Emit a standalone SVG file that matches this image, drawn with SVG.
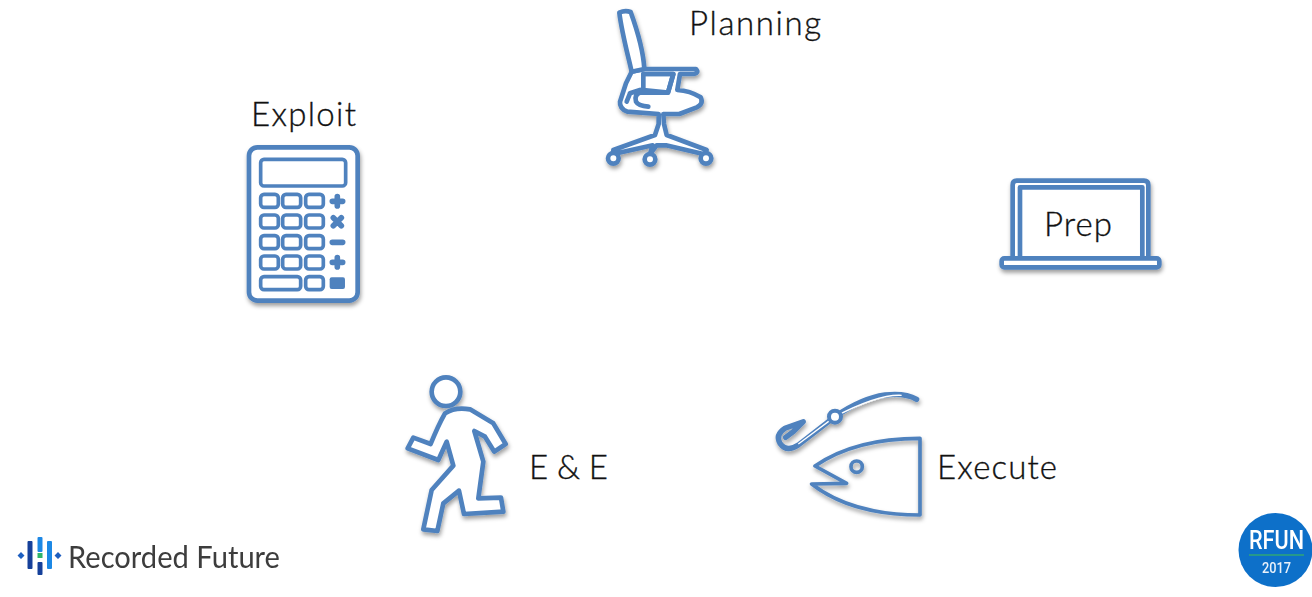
<svg xmlns="http://www.w3.org/2000/svg" width="1312" height="597" viewBox="0 0 1312 597">
<defs>
<filter id="sh" x="-15%" y="-15%" width="130%" height="135%"><feDropShadow dx="3" dy="9" stdDeviation="6.500" flood-color="#000" flood-opacity=".38"/></filter>
<filter id="soft" x="-5%" y="-5%" width="110%" height="110%"><feGaussianBlur stdDeviation=".5"/></filter>
</defs>
<style>
.ic{fill:none;stroke:#5082be;stroke-width:14;stroke-linejoin:round;stroke-linecap:round}
.w{fill:#fff}
.f{fill:#5082be;stroke:none}
.t{font-family:"Lato","Noto Sans",sans-serif;font-weight:300;font-size:33px;fill:#111;stroke:#111;stroke-width:.35}
</style>
<rect width="1312" height="597" fill="#fff"/>
<g id="planning">
<g transform="translate(590 0) scale(.3333)" class="ic" filter="url(#sh)">
<path class="w" d="M125 215L108 250L90 305Q88 325 112 335L206 342L206 372L195 405L70 450L70 462L188 436L180 462L200 436L228 436L340 462L350 450L230 405L222 372L220 342L268 342L320 322Q342 312 332 292Q300 272 262 270L270 222L312 222Q328 218 318 207L163 207Z"/>
<path class="w" d="M88 38Q105 30 122 36C145 100 160 150 163 207L125 215C110 150 95 95 88 38Z"/>
<path class="w" d="M160 222L250 222L234 278L160 270Z"/>
<path d="M160 222L250 222L234 278L150 278Q132 285 138 305Q145 318 175 320M120 280L150 270M110 305L120 280"/>
<circle class="w" cx="70" cy="475" r="16"/>
<circle class="w" cx="180" cy="478" r="16"/>
<circle class="w" cx="348" cy="475" r="16"/>
</g>
<text class="t" x="689" y="35" textLength="132">Planning</text>
</g>
<g id="exploit">
<g transform="translate(235 90) scale(.3333)" class="ic" filter="url(#sh)">
<rect class="w" x="42" y="172" width="326" height="460" rx="25"/>
<g style="stroke-width:11">
<rect x="77" y="208" width="255" height="80" rx="10"/>
<rect x="77" y="313" width="53" height="39" rx="10"/><rect x="143" y="313" width="54" height="39" rx="10"/><rect x="212" y="313" width="53" height="39" rx="10"/>
<rect x="77" y="375" width="53" height="39" rx="10"/><rect x="143" y="375" width="54" height="39" rx="10"/><rect x="212" y="375" width="53" height="39" rx="10"/>
<rect x="77" y="437" width="53" height="39" rx="10"/><rect x="143" y="437" width="54" height="39" rx="10"/><rect x="212" y="437" width="53" height="39" rx="10"/>
<rect x="77" y="498" width="53" height="39" rx="10"/><rect x="143" y="498" width="54" height="39" rx="10"/><rect x="212" y="498" width="53" height="39" rx="10"/>
<rect x="77" y="560" width="120" height="39" rx="10"/><rect x="212" y="560" width="53" height="39" rx="10"/>
</g>
<path style="stroke-width:17" d="M292 334H323M307 320V348M295 383L319 407M319 383L295 407M292 457H323M292 517H323M307 503V531"/>
<rect class="f" x="284" y="562" width="46" height="35" rx="6"/>
</g>
<text class="t" x="251" y="126" textLength="105">Exploit</text>
</g>
<g id="prep">
<g transform="translate(990 170) scale(.3333)" class="ic" filter="url(#sh)">
<path class="w" d="M68 265L68 45Q68 32 80 32L462 32Q475 32 475 45L475 265"/>
<rect class="w" x="90" y="52" width="367" height="213"/>
<rect class="w" x="35" y="265" width="473" height="27" rx="8"/>
</g>
<text class="t" x="1044" y="236" textLength="68">Prep</text>
</g>
<g id="execute">
<g transform="translate(765 380) scale(.3333)" filter="url(#sh)">
<path d="M455 58Q420 38 360 45Q290 55 210 110L100 195Q65 218 45 190Q30 165 60 145L115 125L85 155L62 172" fill="none" stroke="#5082be" stroke-width="16" stroke-linejoin="round" stroke-linecap="round"/>
<path d="M410 46Q340 42 210 110L100 192" fill="none" stroke="#fff" stroke-width="4"/>
<circle cx="210" cy="110" r="18" fill="#fff" stroke="#5082be" stroke-width="12"/>
<path class="ic" style="stroke-width:11" d="M465 175L465 405Q260 405 140 312L245 310L150 258Q270 175 465 175Z" fill="#fff"/>
<circle cx="275" cy="260" r="17" fill="none" stroke="#5082be" stroke-width="11"/>
</g>
<text class="t" x="937" y="479" textLength="120">Execute</text>
</g>
<g id="ee">
<g transform="translate(395 370) scale(.3333)" class="ic" filter="url(#sh)">
<circle class="w" cx="153" cy="65" r="43"/>
<path class="w" d="M150 130Q180 110 225 118L295 160L332 222L298 245L270 200L238 183L265 275L250 385L318 383L325 425L207 432L192 362L145 400L127 483L85 478L110 360L175 287L155 215L130 270L38 235L55 203L107 222Q130 165 150 130Z"/>
</g>
<text class="t" x="529" y="479" textLength="79">E &amp; E</text>
</g>
<g id="recorded-future" filter="url(#soft)">
<path d="M21 552L24.500 555.500L21 559L17.500 555.500ZM58 552L61.500 555.500L58 559L54.500 555.500Z" fill="#1f5fc0"/>
<rect x="27.500" y="541" width="5" height="28" rx="1" fill="#12409a"/>
<rect x="37.500" y="537" width="5" height="15" rx="1" fill="#1e88e5"/>
<rect x="37.500" y="553" width="5" height="5" fill="#2fb56a"/>
<rect x="37.500" y="562" width="5" height="13" rx="1" fill="#12409a"/>
<rect x="47" y="541" width="5" height="28" rx="1" fill="#1e88e5"/>
<text x="68" y="568" font-family="Lato,'Noto Sans',sans-serif" font-size="30" fill="#3c3c3c" textLength="212" lengthAdjust="spacingAndGlyphs">Recorded Future</text>
</g>
<g id="rfun" filter="url(#soft)">
<circle cx="1275.500" cy="550" r="37" fill="#0f70c9"/>
<text x="1249" y="549" font-family="Roboto,sans-serif" font-size="25" font-weight="500" fill="#fff" textLength="55" lengthAdjust="spacingAndGlyphs">RFUN</text>
<rect x="1249" y="554.500" width="55" height="1" fill="#3fbf4f"/>
<text x="1262" y="573" font-family="Roboto,sans-serif" font-size="15" font-weight="500" fill="#e8f1fa" textLength="29" lengthAdjust="spacingAndGlyphs">2017</text>
</g>
</svg>
